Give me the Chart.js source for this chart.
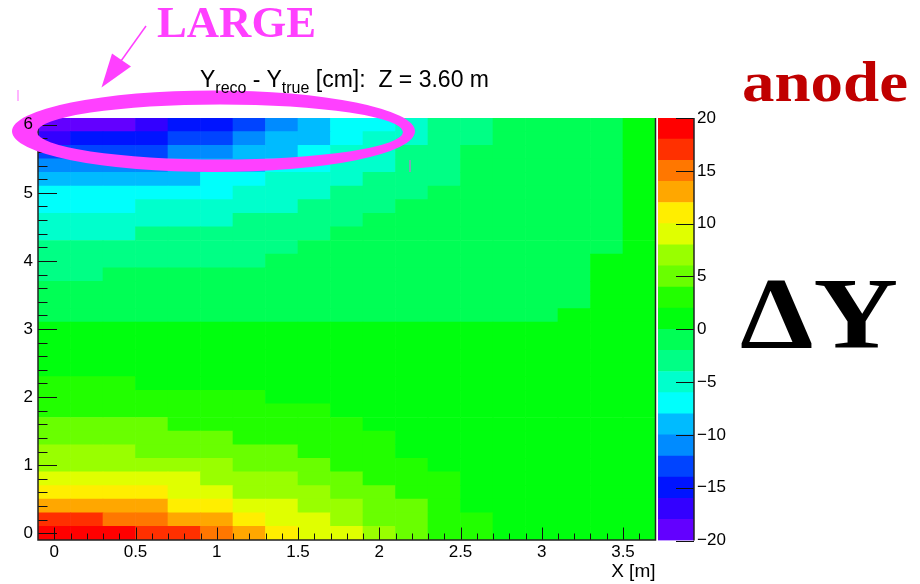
<!DOCTYPE html>
<html lang="en">
<head>
<meta charset="utf-8">
<title>Y reco - Y true, Z = 3.60 m</title>
<script src="https://cdn.jsdelivr.net/npm/chart.js@4.4.1/dist/chart.umd.min.js"></script>
<style>
  html, body { margin: 0; padding: 0; background: #fff; }
  #wrap { position: relative; width: 920px; height: 584px; overflow: hidden; background: #fff; }
  #wrap canvas, #wrap svg { position: absolute; top: 0; }
  #mapChart { left: 0; }
  #paletteChart { left: 658px; }
  #notes { left: 0; pointer-events: none; }
</style>
</head>
<body>
<div id="wrap">
  <canvas id="mapChart" width="920" height="584"></canvas>
  <canvas id="paletteChart" width="110" height="584"></canvas>
  <svg id="notes" width="920" height="584" xmlns="http://www.w3.org/2000/svg">
    <text x="200" y="87" font-family="'Liberation Sans', Arial, sans-serif" font-size="23" fill="#000">Y<tspan font-size="16" dy="6">reco</tspan><tspan dy="-6">&#160;- Y</tspan><tspan font-size="16" dy="6">true</tspan><tspan dy="-6">&#160;[cm]:&#160;&#160;Z = 3.60 m</tspan></text>
    <text x="157" y="37" font-family="'Liberation Serif', 'Times New Roman', serif" font-weight="bold" font-size="45" fill="#ff40ff" textLength="159" lengthAdjust="spacingAndGlyphs">LARGE</text>
    <line x1="146" y1="26" x2="121" y2="61" stroke="#ff40ff" stroke-width="1.5"/>
    <polygon points="101.5,87.5 112,53.5 131,66.5" fill="#ff40ff"/>
    <line x1="18" y1="90" x2="18" y2="101" stroke="#ff9cff" stroke-width="1.5"/>
    <line x1="410" y1="160" x2="410" y2="172" stroke="#a886c8" stroke-width="1.5"/>
    <text x="742" y="101" font-family="'Liberation Serif', 'Times New Roman', serif" font-weight="bold" font-size="58" fill="#c00000" textLength="166" lengthAdjust="spacingAndGlyphs">anode</text>
    <text x="740" y="348" font-family="'Liberation Serif', 'Times New Roman', serif" font-weight="bold" font-size="102" fill="#000" textLength="158" lengthAdjust="spacingAndGlyphs">ΔY</text>
  </svg>
</div>
<script>
Chart.defaults.font.family = "'Liberation Sans', Arial, sans-serif";
Chart.defaults.color = '#000';

// bin centres (m)
const xCenters = [0, 0.2, 0.4, 0.6, 0.8, 1.0, 1.2, 1.4, 1.6, 1.8, 2.0, 2.2, 2.4, 2.6, 2.8, 3.0, 3.2, 3.4, 3.6];
const yCenters = [0, 0.2, 0.4, 0.6, 0.8, 1.0, 1.2, 1.4, 1.6, 1.8, 2.0, 2.2, 2.4, 2.6, 2.8, 3.0,
                  3.2, 3.4, 3.6, 3.8, 4.0, 4.2, 4.4, 4.6, 4.8, 5.0, 5.2, 5.4, 5.6, 5.8, 6.0];
const binHalf = 0.1;

// Y_reco - Y_true [cm], one row per y bin (bottom to top), one value per x bin
const dyRows = [
  [19, 19, 19, 17, 17, 15, 13, 11, 9, 9, 7, 5, 3, 3, 1, 1, 1, 1, 1],
  [17, 17, 15, 15, 13, 13, 11, 9, 9, 7, 5, 5, 3, 3, 1, 1, 1, 1, 1],
  [13, 13, 13, 13, 11, 11, 9, 9, 7, 7, 5, 5, 3, 1, 1, 1, 1, 1, 1],
  [11, 11, 11, 11, 9, 9, 7, 7, 7, 5, 5, 3, 3, 1, 1, 1, 1, 1, 1],
  [9, 9, 9, 9, 9, 7, 7, 7, 5, 5, 3, 3, 3, 1, 1, 1, 1, 1, 1],
  [7, 7, 7, 7, 7, 7, 5, 5, 5, 3, 3, 3, 1, 1, 1, 1, 1, 1, 1],
  [7, 7, 7, 5, 5, 5, 5, 5, 3, 3, 3, 1, 1, 1, 1, 1, 1, 1, 1],
  [5, 5, 5, 5, 5, 5, 3, 3, 3, 3, 3, 1, 1, 1, 1, 1, 1, 1, 1],
  [5, 5, 5, 5, 3, 3, 3, 3, 3, 3, 1, 1, 1, 1, 1, 1, 1, 1, 1],
  [3, 3, 3, 3, 3, 3, 3, 3, 3, 1, 1, 1, 1, 1, 1, 1, 1, 1, 1],
  [3, 3, 3, 3, 3, 3, 3, 1, 1, 1, 1, 1, 1, 1, 1, 1, 1, 1, 1],
  [3, 3, 3, 1, 1, 1, 1, 1, 1, 1, 1, 1, 1, 1, 1, 1, 1, 1, 1],
  [1, 1, 1, 1, 1, 1, 1, 1, 1, 1, 1, 1, 1, 1, 1, 1, 1, 1, 1],
  [1, 1, 1, 1, 1, 1, 1, 1, 1, 1, 1, 1, 1, 1, 1, 1, 1, 1, 1],
  [1, 1, 1, 1, 1, 1, 1, 1, 1, 1, 1, 1, 1, 1, 1, 1, 1, 1, 1],
  [1, 1, 1, 1, 1, 1, 1, 1, 1, 1, 1, 1, 1, 1, 1, 1, 1, 1, 1],
  [-1, -1, -1, -1, -1, -1, -1, -1, -1, -1, -1, -1, -1, -1, -1, -1, 1, 1, 1],
  [-1, -1, -1, -1, -1, -1, -1, -1, -1, -1, -1, -1, -1, -1, -1, -1, -1, 1, 1],
  [-1, -1, -1, -1, -1, -1, -1, -1, -1, -1, -1, -1, -1, -1, -1, -1, -1, 1, 1],
  [-3, -3, -1, -1, -1, -1, -1, -1, -1, -1, -1, -1, -1, -1, -1, -1, -1, 1, 1],
  [-3, -3, -3, -3, -3, -3, -3, -1, -1, -1, -1, -1, -1, -1, -1, -1, -1, 1, 1],
  [-3, -3, -3, -3, -3, -3, -3, -3, -1, -1, -1, -1, -1, -1, -1, -1, -1, -1, 1],
  [-5, -5, -5, -3, -3, -3, -3, -3, -3, -1, -1, -1, -1, -1, -1, -1, -1, -1, 1],
  [-5, -5, -5, -5, -5, -5, -3, -3, -3, -3, -1, -1, -1, -1, -1, -1, -1, -1, 1],
  [-7, -7, -7, -5, -5, -5, -5, -5, -3, -3, -3, -1, -1, -1, -1, -1, -1, -1, 1],
  [-7, -7, -7, -7, -7, -7, -5, -5, -5, -3, -3, -3, -1, -1, -1, -1, -1, -1, 1],
  [-9, -9, -9, -9, -9, -7, -7, -5, -5, -5, -3, -3, -3, -1, -1, -1, -1, -1, 1],
  [-11, -11, -11, -11, -9, -9, -9, -7, -7, -5, -5, -3, -3, -1, -1, -1, -1, -1, 1],
  [-13, -13, -13, -13, -11, -11, -9, -9, -7, -5, -5, -3, -3, -1, -1, -1, -1, -1, 1],
  [-17, -15, -15, -15, -13, -13, -11, -9, -9, -7, -5, -5, -3, -3, -1, -1, -1, -1, 1],
  [-19, -19, -19, -17, -15, -15, -13, -11, -9, -7, -7, -5, -3, -3, -1, -1, -1, -1, 1]
];

const xTicks = [0, 0.5, 1, 1.5, 2, 2.5, 3, 3.5];
const yTicks = [0, 1, 2, 3, 4, 5, 6];
const zTicks = [-20, -15, -10, -5, 0, 5, 10, 15, 20];
const zBandEdges = [-20, -18, -16, -14, -12, -10, -8, -6, -4, -2, 0, 2, 4, 6, 8, 10, 12, 14, 16, 18, 20];
const bandColors = ['#6300ff', '#3300ff', '#0014ff', '#0044ff', '#008bff', '#00bbff', '#00fffc', '#00ffcc', '#00ff85', '#00ff55',
                    '#00ff0e', '#22ff00', '#69ff00', '#99ff00', '#e0ff00', '#ffee00', '#ffa700', '#ff7700', '#ff3000', '#ff0000'];

const bandColor = v => {
    let k = zBandEdges.findIndex((e, n) => n < bandColors.length && v >= e && v < zBandEdges[n + 1]);
    if (k < 0) k = v < 0 ? 0 : bandColors.length - 1;
    return bandColors[k];
};

const minusLabel = v => (v < 0 ? '\u2212' + Math.abs(v) : String(v));

// one dataset of floating bars per y bin
const rowDatasets = yCenters.map((yc, j) => ({
    label: 'y = ' + yc.toFixed(1),
    data: xCenters.map(xc => ({ x: xc, y: [yc - binHalf, yc + binHalf] })),
    backgroundColor: dyRows[j].map(bandColor)
}));

// ROOT style: ticks pointing into the frame, plus the drawn ellipse
const mapDecor = {
    id: 'mapDecor',
    afterDatasetsDraw(chart) {
        const { ctx, chartArea: a, scales: { x, y } } = chart;
        ctx.save();
        ctx.strokeStyle = '#111';
        ctx.lineWidth = 1;
        ctx.beginPath();
        for (let n = 0; n <= 36; n++) {
            const px = Math.round(x.getPixelForValue(n / 10)) + 0.5;
            ctx.moveTo(px, a.bottom);
            ctx.lineTo(px, a.bottom - (n % 5 === 0 ? 12.5 : 6.5));
        }
        for (let n = 0; n <= 30; n++) {
            const py = Math.round(y.getPixelForValue(n / 5)) + 0.5;
            ctx.moveTo(a.left, py);
            ctx.lineTo(a.left + (n % 5 === 0 ? 19 : 9.5), py);
        }
        ctx.stroke();

        ctx.strokeStyle = '#222';
        ctx.lineWidth = 1.5;
        ctx.beginPath();
        ctx.moveTo(a.left, a.top);
        ctx.lineTo(a.left, a.bottom);
        ctx.lineTo(a.right, a.bottom);
        ctx.lineTo(a.right, a.top);
        ctx.stroke();

        // magenta ring
        ctx.fillStyle = '#ff40ff';
        ctx.beginPath();
        ctx.ellipse(213.5, 131.3, 201.5, 40.8, 0, 0, Math.PI * 2);
        ctx.ellipse(220, 132, 183, 27.5, 0, 0, Math.PI * 2);
        ctx.fill('evenodd');
        ctx.restore();
    }
};

new Chart(document.getElementById('mapChart'), {
    type: 'bar',
    data: { datasets: rowDatasets },
    options: {
        responsive: false,
        animation: false,
        devicePixelRatio: 1,
        layout: { padding: { left: 0, right: 264.5, top: 118, bottom: 0 } },
        plugins: { legend: { display: false }, tooltip: { enabled: false } },
        datasets: { bar: { grouped: false, categoryPercentage: 1, barPercentage: 1, borderWidth: 0 } },
        scales: {
            x: {
                type: 'linear', min: -0.1, max: 3.7, offset: false,
                grid: { display: false, drawTicks: false, offset: false },
                border: { display: false },
                ticks: { font: { size: 17 }, padding: 2, maxRotation: 0, callback: v => String(v) },
                afterBuildTicks: s => { s.ticks = xTicks.map(v => ({ value: v })); },
                afterFit: s => { s.height = 44; },
                title: { display: true, text: 'X [m]', align: 'end', font: { size: 19 }, padding: { top: 0, bottom: 1 } }
            },
            y: {
                type: 'linear', min: -0.1, max: 6.1,
                grid: { display: false, drawTicks: false },
                border: { display: false },
                ticks: { font: { size: 17 }, padding: 5, z: 1, callback: v => String(v) },
                afterBuildTicks: s => { s.ticks = yTicks.map(v => ({ value: v })); },
                afterFit: s => { s.width = 38; }
            }
        }
    },
    plugins: [mapDecor]
});

// colour palette bar
const paletteDecor = {
    id: 'paletteDecor',
    afterDatasetsDraw(chart) {
        const { ctx, chartArea: a, scales: { y } } = chart;
        ctx.save();
        ctx.strokeStyle = '#111';
        ctx.lineWidth = 1;
        ctx.beginPath();
        zTicks.forEach(v => {
            const py = Math.round(y.getPixelForValue(v)) + 0.5;
            ctx.moveTo(a.right, py);
            ctx.lineTo(a.right - 18, py);
        });
        ctx.stroke();
        ctx.lineWidth = 1.5;
        ctx.strokeStyle = '#222';
        ctx.beginPath();
        ctx.moveTo(a.right, a.top);
        ctx.lineTo(a.right, a.bottom);
        ctx.stroke();
        ctx.restore();
    }
};

new Chart(document.getElementById('paletteChart'), {
    type: 'bar',
    data: {
        labels: ['dY'],
        datasets: bandColors.map((c, k) => ({
            label: zBandEdges[k] + ' to ' + zBandEdges[k + 1],
            data: [[zBandEdges[k], zBandEdges[k + 1]]],
            backgroundColor: c
        }))
    },
    options: {
        responsive: false,
        animation: false,
        devicePixelRatio: 1,
        layout: { padding: { left: 0, right: 0, top: 118, bottom: 43.5 } },
        plugins: { legend: { display: false }, tooltip: { enabled: false } },
        datasets: { bar: { grouped: false, categoryPercentage: 1, barPercentage: 1, borderWidth: 0 } },
        scales: {
            x: { display: false },
            y: {
                type: 'linear', position: 'right', min: -20, max: 20,
                grid: { display: false, drawTicks: false },
                border: { display: false },
                ticks: { font: { size: 17 }, padding: 3, callback: minusLabel },
                afterBuildTicks: s => { s.ticks = zTicks.map(v => ({ value: v })); },
                afterFit: s => { s.width = 110 - 36; }
            }
        }
    },
    plugins: [paletteDecor]
});
</script>
</body>
</html>
